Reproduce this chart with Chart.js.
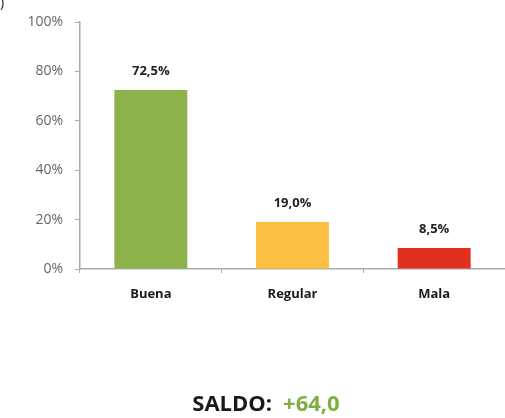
<!DOCTYPE html>
<html>
<head>
<meta charset="utf-8">
<script src="https://cdn.jsdelivr.net/npm/chart.js@4/dist/chart.umd.min.js"></script>
<style>
html,body{margin:0;padding:0;background:#fff;}
#wrap{position:relative;width:505px;height:418px;}
</style>
</head>
<body>
<div id="wrap"><canvas id="c" width="505" height="418"></canvas></div>
<script>
const categories = ["Buena", "Regular", "Mala"];
const values = [72.5, 19.0, 8.5];
const valueLabels = ["72,5%", "19,0%", "8,5%"];
const barColors = ["#8DB24B", "#FDBF42", "#E1301F"];
const yTicks = [0, 20, 40, 60, 80, 100];
const saldoLabel = "SALDO:";
const saldoValue = "+64,0";

const FONT = "'Open Sans', Lato, sans-serif";

const extras = {
  id: 'extras',
  afterDatasetsDraw(chart) {
    const ctx = chart.ctx;
    const meta = chart.getDatasetMeta(0);
    ctx.save();
    ctx.font = "bold 13px " + FONT;
    ctx.fillStyle = "#222";
    ctx.textAlign = "center";
    ctx.textBaseline = "middle";
    meta.data.forEach((bar, i) => {
      ctx.fillText(valueLabels[i], bar.x, bar.y - 19);
    });
    // saldo
    ctx.font = "bold 22px " + FONT;
    ctx.textBaseline = "middle";
    ctx.textAlign = "left";
    const w1 = ctx.measureText(saldoLabel).width;
    const w2 = ctx.measureText(saldoValue).width;
    const gap = 11;
    const total = w1 + gap + w2;
    const x0 = 266 - total / 2;
    ctx.fillStyle = "#1a1a1a";
    ctx.fillText(saldoLabel, x0, 405);
    ctx.fillStyle = "#7FAE43";
    ctx.fillText(saldoValue, x0 + w1 + gap, 405);
    // corner fragment
    ctx.font = "14px " + FONT;
    ctx.fillStyle = "#222";
    ctx.textBaseline = "top";
    ctx.fillText(")", 0, -4);
    ctx.restore();
  }
};

new Chart(document.getElementById('c'), {
  type: 'bar',
  data: {
    labels: categories,
    datasets: [{
      data: values,
      backgroundColor: barColors,
      borderWidth: 0,
      categoryPercentage: 1,
      barPercentage: 0.515
    }]
  },
  options: {
    responsive: false,
    animation: false,
    layout: { padding: { top: 22, right: 0, bottom: 109, left: 0 } },
    plugins: { legend: { display: false }, tooltip: { enabled: false } },
    scales: {
      x: {
        grid: { display: true, drawOnChartArea: false, tickLength: 4, color: "#aaa", offset: true },
        border: { display: true, color: "#aaa", width: 1.5 },
        ticks: { color: "#1a1a1a", font: { family: FONT, size: 13, weight: "bold" }, padding: 13 },
        afterFit(s) { s.height = 40; }
      },
      y: {
        min: 0, max: 100,
        afterBuildTicks(s) { s.ticks = yTicks.map(v => ({ value: v })); },
        grid: { display: true, drawOnChartArea: false, tickLength: 5, color: "#aaa" },
        border: { display: true, color: "#aaa", width: 1.5 },
        ticks: {
          color: "#666",
          font: { family: FONT, size: 14 },
          padding: 12,
          callback: v => v + "%"
        },
        afterFit(s) { s.width = 80; }
      }
    }
  },
  plugins: [extras]
});
</script>
</body>
</html>
